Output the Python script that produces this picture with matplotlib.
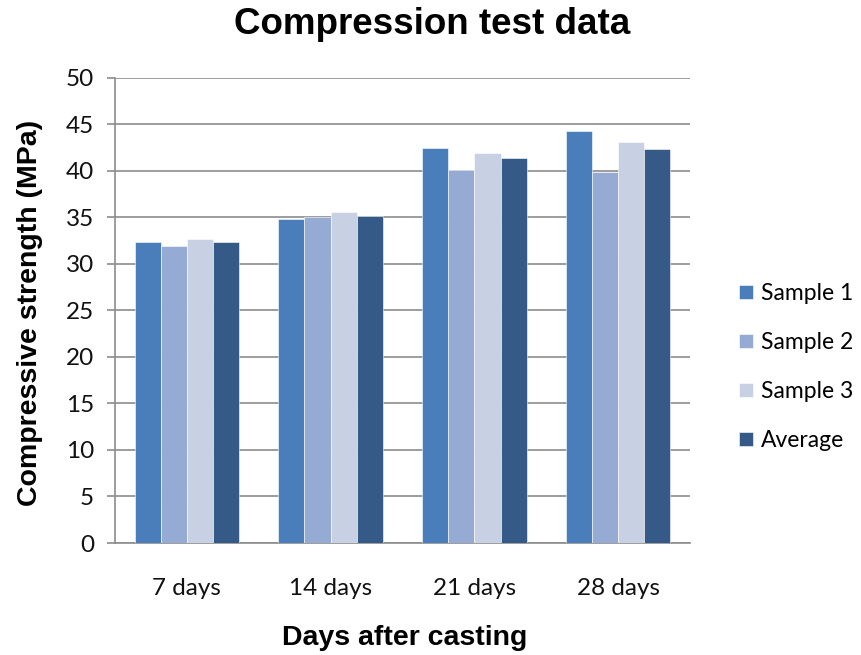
import matplotlib
matplotlib.use("Agg")
import matplotlib.pyplot as plt
import numpy as np

categories = ["7 days", "14 days", "21 days", "28 days"]
series_names = ["Sample 1", "Sample 2", "Sample 3", "Average"]
sample1 = [32.3, 34.8, 42.4, 44.2]
sample2 = [31.9, 35.0, 40.1, 39.9]
sample3 = [32.6, 35.6, 41.9, 43.1]
average = [32.3, 35.1, 41.4, 42.35]
yticks = [0, 5, 10, 15, 20, 25, 30, 35, 40, 45, 50]

colors = ["#4A7EBB", "#95ABD3", "#C8D1E4", "#355A88"]
series = [sample1, sample2, sample3, average]

fig = plt.figure(figsize=(8.62, 6.55), dpi=100)
ax = fig.add_axes([115/862, 1-543/655, (690-115)/862, (543-77.5)/655])

x = np.arange(len(categories))
w = 0.182
for i, (vals, name, c) in enumerate(zip(series, series_names, colors)):
    ax.bar(x + (i - 1.5) * w, vals, width=w, color=c, label=name,
           edgecolor="white", linewidth=0.4, zorder=3)

ax.set_xlim(-0.5, len(categories) - 0.5)
ax.set_ylim(0, 50)
ax.set_yticks(yticks)
ax.set_xticks(x)
ax.set_xticklabels(categories)
ax.yaxis.grid(True, color="#8C8C8C", linewidth=1.2, zorder=0)
ax.set_axisbelow(True)
for s in ["top", "right"]:
    ax.spines[s].set_visible(False)
ax.spines["left"].set_color("#8C8C8C")
ax.spines["left"].set_linewidth(1.2)
ax.spines["bottom"].set_color("#8C8C8C")
ax.spines["bottom"].set_linewidth(1.2)
ax.tick_params(axis="y", length=6, width=1.2, color="#8C8C8C", pad=9,
               labelsize=17.5)
ax.tick_params(axis="x", length=0, pad=25, labelsize=17.5)
for lab in ax.get_xticklabels() + ax.get_yticklabels():
    lab.set_fontfamily("Lato")
    lab.set_color("#111111")

fig.text(432/862, 1-25/655, "Compression test data", ha="center", va="center",
         fontsize=26.5, fontweight="bold", family="Liberation Sans")
fig.text(30/862, 1-313/655, "Compressive strength (MPa)", ha="center", va="center",
         rotation=90, fontsize=20.5, fontweight="bold", family="Liberation Sans")
fig.text(405/862, 1-638/655, "Days after casting", ha="center", va="center",
         fontsize=20.5, fontweight="bold", family="Liberation Sans")

leg = ax.legend(loc="center left", bbox_to_anchor=(739/862, 1-367/655),
                bbox_transform=fig.transFigure, frameon=False, borderpad=0,
                borderaxespad=0,
                prop={"family": "Lato", "size": 16.5}, handlelength=0.6,
                handleheight=0.6, handletextpad=0.35, labelspacing=1.22)

fig.savefig("out.png", dpi=100)
